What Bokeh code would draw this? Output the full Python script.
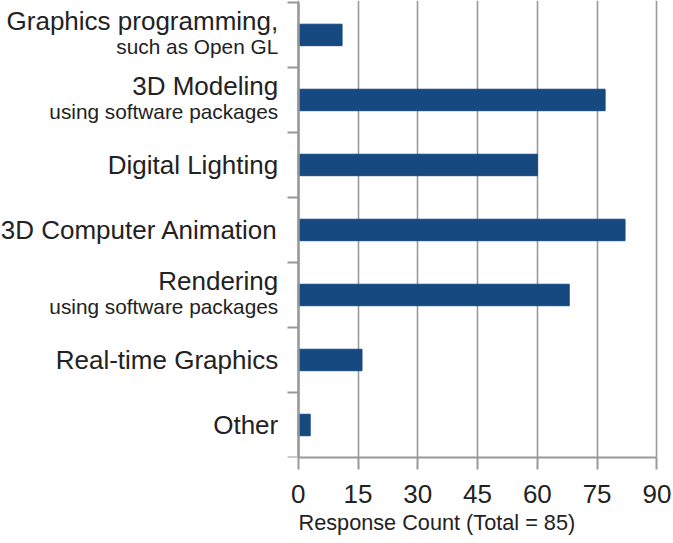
from bokeh.plotting import figure
from bokeh.models import ColumnDataSource, FixedTicker, Range1d, Title
from bokeh.core.properties import value
from bokeh.embed import file_html
from bokeh.resources import INLINE

# ---- data ----
categories = ["Graphics programming,", "3D Modeling", "Digital Lighting",
              "3D Computer Animation", "Rendering", "Real-time Graphics", "Other"]
subtitles = ["such as Open GL", "using software packages", "", "",
             "using software packages", "", ""]
counts = [11, 77, 60, 82, 68, 16, 3]
x_ticks = [0, 15, 30, 45, 60, 75, 90]
x_title = "Response Count (Total = 85)"

n = len(categories)
ypos = [n - 0.5 - i for i in range(n)]
has_sub = [bool(s) for s in subtitles]
main_off = [-14 if h else 0 for h in has_sub]   # screen px (down positive)
sub_off = [12] * n

src = ColumnDataSource(dict(y=ypos, count=counts, cat=categories, sub=subtitles,
                            x0=[0] * n, moff=main_off, soff=sub_off))

FONT = "Liberation Sans"
GRAY = "#999999"
TXT = "#222222"
BAR = "#15497f"

p = figure(width=673, height=543, x_range=Range1d(-74.7, 90.9), y_range=Range1d(0, 7.03),
           output_backend="svg", toolbar_location=None,
           min_border_left=0, min_border_right=13, min_border_top=0, min_border_bottom=86)
p.outline_line_color = None
p.background_fill_color = "white"

p.hbar(y="y", right="count", left=0, height=0.33, source=src, color=BAR)

# category labels (right-aligned just left of the value axis)
p.text(x="x0", y="y", text="cat", source=src, x_offset=-20, y_offset="moff",
       text_align="right", text_baseline="alphabetic",
       text_font=value(FONT), text_font_size="26px", text_color=TXT)
p.text(x="x0", y="y", text="sub", source=src, x_offset=-20, y_offset="soff",
       text_align="right", text_baseline="alphabetic",
       text_font=value(FONT), text_font_size="20.8px", text_color=TXT)

# x axis
p.xaxis.ticker = FixedTicker(ticks=x_ticks)
p.xgrid.ticker = FixedTicker(ticks=x_ticks)
p.xaxis.bounds = (0, 90)
p.xaxis.major_tick_out = 12
p.xaxis.major_tick_in = 0
p.xaxis.minor_tick_line_color = None
p.xaxis.axis_line_color = GRAY
p.xaxis.axis_line_width = 2
p.xaxis.major_tick_line_color = GRAY
p.xaxis.major_tick_line_width = 2
p.xaxis.major_label_text_font = FONT
p.xaxis.major_label_text_font_size = "26px"
p.xaxis.major_label_text_color = TXT
p.xaxis.major_label_standoff = 15
p.xgrid.grid_line_color = GRAY
p.xgrid.grid_line_width = 1.6
p.ygrid.visible = False

# y axis at x = 0 (ticks at category boundaries, no labels)
p.yaxis.fixed_location = 0
p.yaxis.bounds = (0, n)
p.yaxis.ticker = FixedTicker(ticks=list(range(n + 1)))
p.yaxis.major_tick_out = 11
p.yaxis.major_tick_in = 0
p.yaxis.minor_tick_line_color = None
p.yaxis.axis_line_color = GRAY
p.yaxis.axis_line_width = 2.5
p.yaxis.major_tick_line_color = GRAY
p.yaxis.major_tick_line_width = 2
p.yaxis.major_label_text_font_size = "0px"
p.yaxis.major_label_text_color = None

p.add_layout(Title(text=x_title, align="left", offset=298, standoff=8,
                   vertical_align="top",
                   text_font=FONT, text_font_size="21.7px", text_font_style="normal",
                   text_color=TXT), "below")

open("out.html", "w").write(file_html(p, INLINE))
